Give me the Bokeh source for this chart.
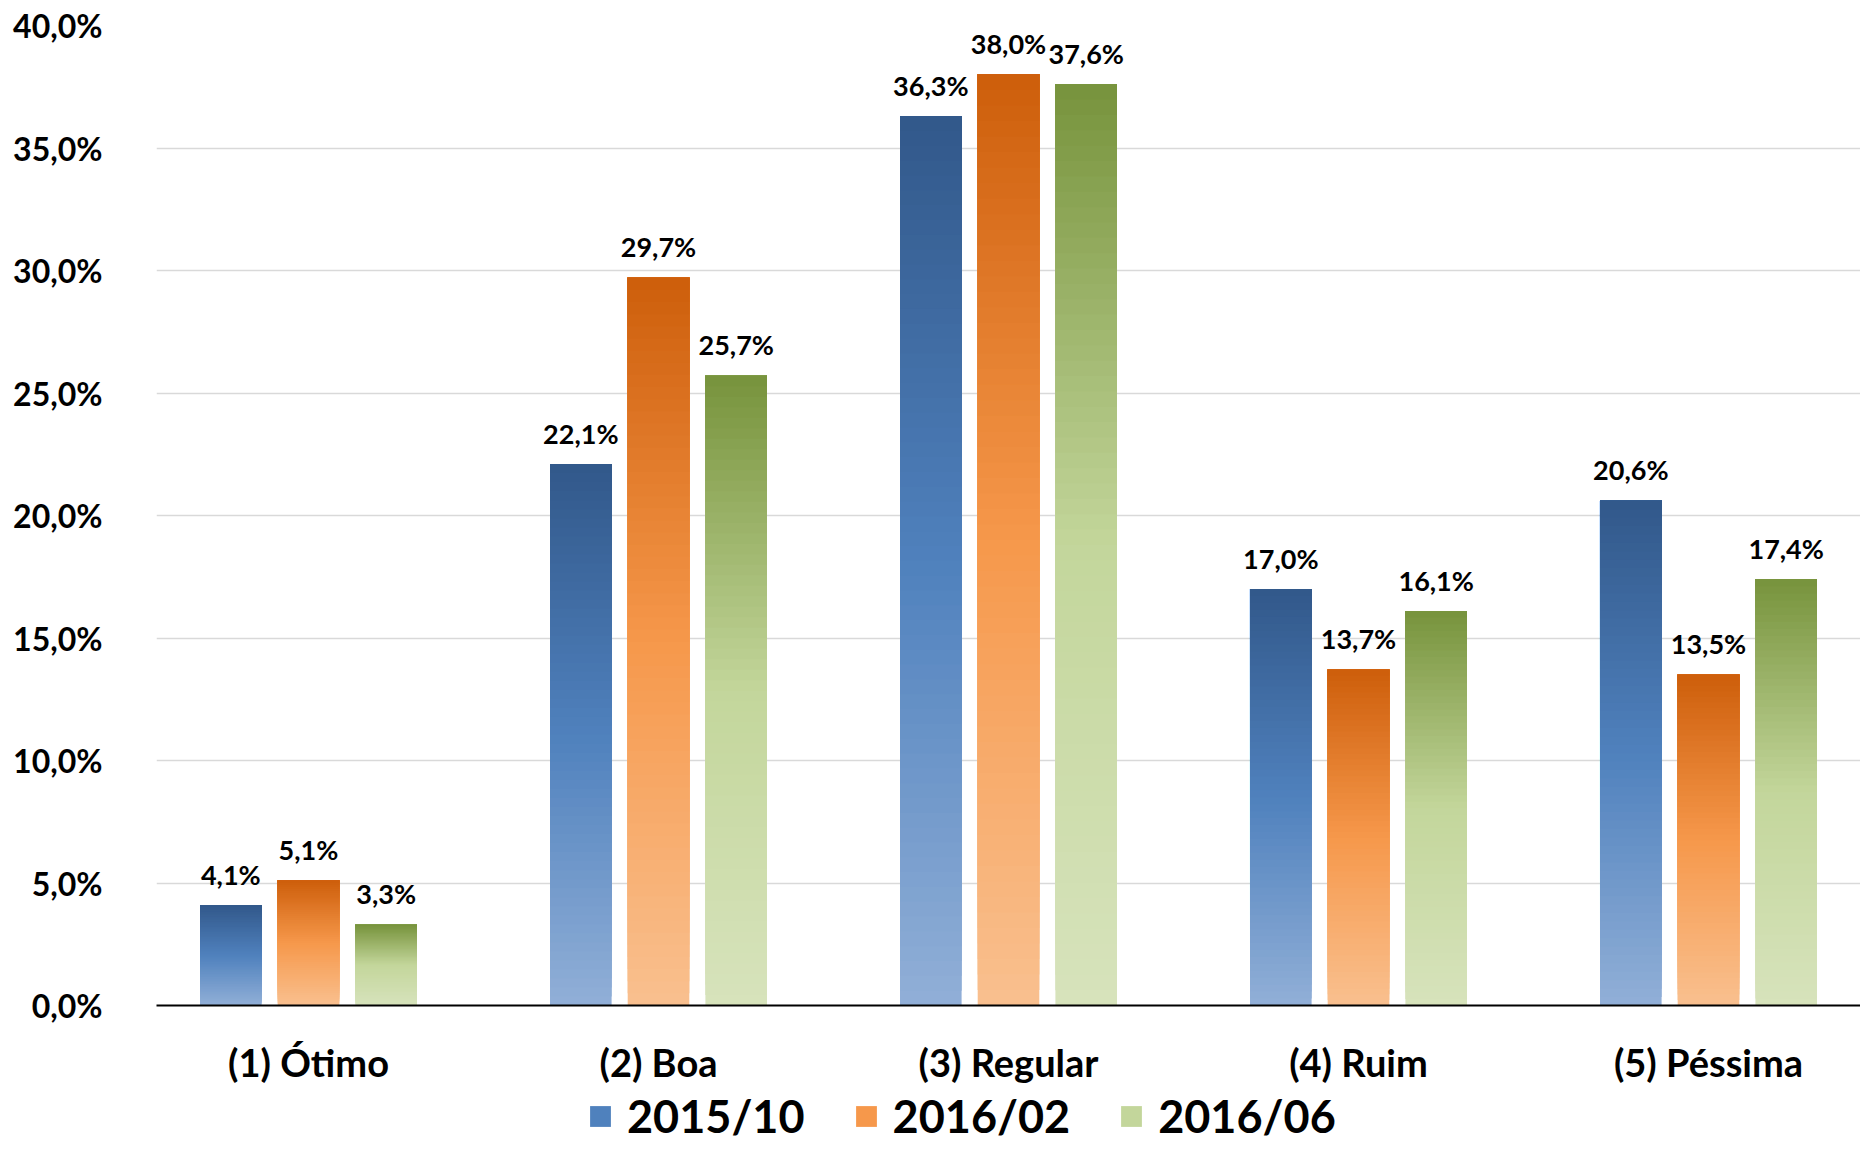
from bokeh.plotting import figure
from bokeh.layouts import column
from bokeh.models import (ColumnDataSource, FactorRange, Range1d, Legend, LegendItem,
                          FixedTicker, CustomJSTickFormatter)
from bokeh.transform import dodge
from bokeh.core.properties import value
from bokeh.embed import file_html
from bokeh.resources import INLINE

# ---------------- data ----------------
categories = ["(1) Ótimo", "(2) Boa", "(3) Regular", "(4) Ruim", "(5) Péssima"]
series_names = ["2015/10", "2016/02", "2016/06"]
s2015_10 = [4.1, 22.1, 36.3, 17.0, 20.6]
s2016_02 = [5.1, 29.7, 38.0, 13.7, 13.5]
s2016_06 = [3.3, 25.7, 37.6, 16.1, 17.4]
y_ticks = [0, 5, 10, 15, 20, 25, 30, 35, 40]

# ---------------- style ----------------
FONT = "Lato"
series_values = [s2015_10, s2016_02, s2016_06]
# gradient stops: top, middle, bottom
gradients = [
    ["#32588A", "#4F81BD", "#91AFD7"],
    ["#CD5E0B", "#F6984B", "#F9C08F"],
    ["#77933C", "#C3D69B", "#D7E3BC"],
]
offsets = [-0.222, 0.0, 0.222]
BAR_W = 0.176
N_STEPS = 60
FRAME_LEFT = 156


def hex2rgb(h):
    h = h.lstrip("#")
    return tuple(int(h[i:i + 2], 16) for i in (0, 2, 4))


def interp(stops, f):
    a, m, b = [hex2rgb(s) for s in stops]
    if f <= 0.5:
        t = f / 0.5
        c0, c1 = a, m
    else:
        t = (f - 0.5) / 0.5
        c0, c1 = m, b
    c = [round(c0[i] + (c1[i] - c0[i]) * t) for i in range(3)]
    return "#%02x%02x%02x" % tuple(c)


x_range = FactorRange(*categories, range_padding=-0.0657, range_padding_units="absolute")
p = figure(x_range=x_range, y_range=Range1d(0, 40),
           width=1860, height=1089, output_backend="svg", toolbar_location=None,
           title=None, min_border_left=FRAME_LEFT, min_border_right=0,
           min_border_top=25, min_border_bottom=84)
p.outline_line_color = None
p.background_fill_color = "white"

for si, (name, vals) in enumerate(zip(series_names, series_values)):
    xs, tops, bottoms, colors = [], [], [], []
    # overlapping bands drawn from bottom-most (light) to top-most (dark)
    for k in range(N_STEPS - 1, -1, -1):
        frac = (k + 0.5) / N_STEPS
        col = interp(gradients[si], frac)
        for c, v in zip(categories, vals):
            xs.append(c)
            tops.append(v)
            bottoms.append(v * (1 - (k + 1) / N_STEPS))
            colors.append(col)
    src = ColumnDataSource(dict(cat=xs, top=tops, bottom=bottoms, color=colors))
    p.vbar(x=dodge("cat", offsets[si], range=p.x_range), top="top", bottom="bottom",
           width=BAR_W, fill_color="color", line_color=None, source=src)

    lsrc = ColumnDataSource(dict(cat=categories, val=vals,
                                 lbl=[("%.1f%%" % v).replace(".", ",") for v in vals]))
    p.text(x=dodge("cat", offsets[si], range=p.x_range), y="val", text="lbl", source=lsrc,
           text_font=value(FONT), text_font_style="bold", text_font_size="27px",
           text_align="center", text_baseline="alphabetic", y_offset=-31,
           text_color="black")

# axes
p.xaxis.axis_line_color = "black"
p.xaxis.axis_line_width = 2
p.xaxis.major_tick_line_color = None
p.xaxis.major_tick_out = 0
p.xaxis.major_tick_in = 0
p.xaxis.minor_tick_line_color = None
p.xaxis.major_label_standoff = 33
p.xaxis.major_label_text_font = FONT
p.xaxis.major_label_text_font_style = "bold"
p.xaxis.major_label_text_font_size = "38px"
p.xaxis.major_label_text_color = "black"

p.yaxis.ticker = FixedTicker(ticks=y_ticks)
p.yaxis.formatter = CustomJSTickFormatter(code="return tick.toFixed(1).replace('.', ',') + '%';")
p.yaxis.axis_line_color = None
p.yaxis.major_tick_line_color = None
p.yaxis.major_tick_out = 0
p.yaxis.major_tick_in = 0
p.yaxis.minor_tick_line_color = None
p.yaxis.major_label_standoff = 54
p.yaxis.major_label_text_font = FONT
p.yaxis.major_label_text_font_style = "bold"
p.yaxis.major_label_text_font_size = "32px"
p.yaxis.major_label_text_color = "black"

p.xgrid.grid_line_color = None
p.ygrid.grid_line_color = "#D9D9D9"
p.ygrid.grid_line_width = 1.5

# ---------------- legend strip ----------------
lg = figure(width=1860, height=54, output_backend="svg", toolbar_location=None,
            title=None, x_range=Range1d(0, 1), y_range=Range1d(0, 1),
            x_axis_type=None, y_axis_type=None, min_border=0)
lg.outline_line_color = None
lg.xgrid.grid_line_color = None
lg.ygrid.grid_line_color = None
legend_items = []
for si, name in enumerate(series_names):
    dummy = lg.vbar(x=[0.5], top=[0], bottom=[0], width=0.0001,
                    fill_color=gradients[si][1], line_color=None)
    legend_items.append(LegendItem(label=name, renderers=[dummy]))

legend = Legend(items=legend_items, location=(431, 0), orientation="horizontal",
                label_text_font=FONT, label_text_font_style="bold",
                label_text_font_size="45px", label_text_color="black",
                glyph_width=26, glyph_height=26, label_standoff=14, spacing=48,
                padding=0, margin=0, border_line_color=None, background_fill_alpha=0)
lg.add_layout(legend, "center")

layout = column(p, lg, spacing=0)
open("out.html", "w").write(file_html(layout, INLINE))
